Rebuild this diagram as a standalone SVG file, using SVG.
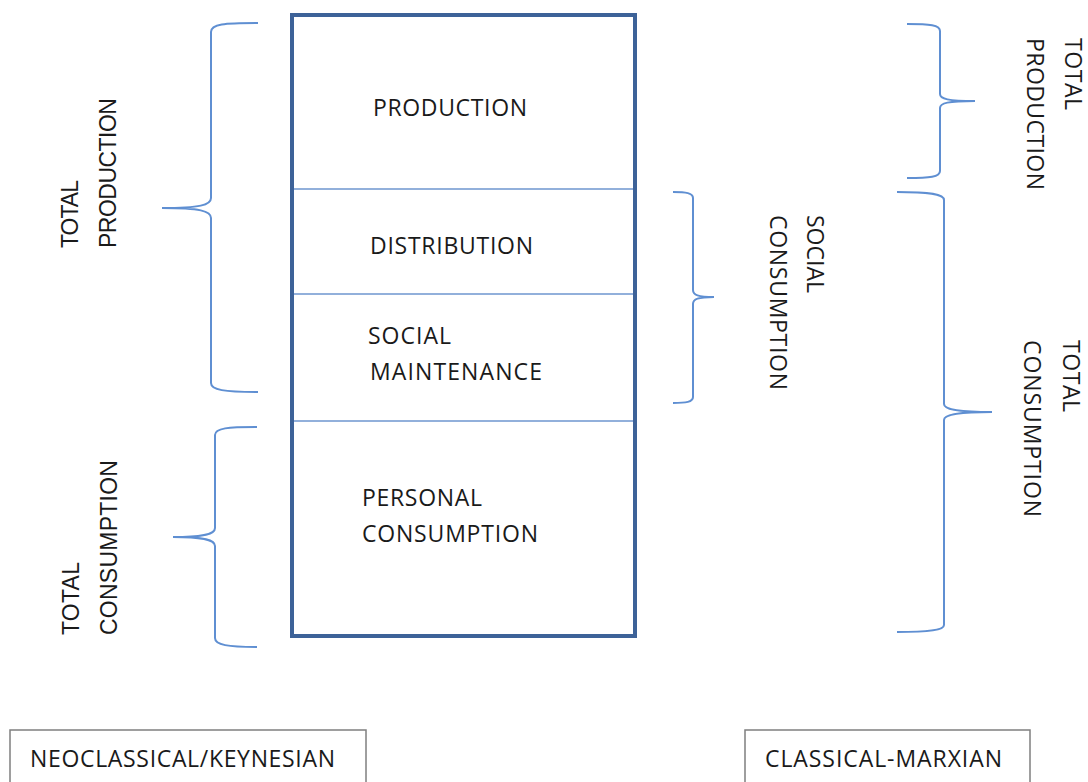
<svg xmlns="http://www.w3.org/2000/svg" width="1088" height="782" viewBox="0 0 1088 782">
<style>
.t{font-family:"Open Sans","Liberation Sans",sans-serif;font-size:23px;fill:#1a1a1a}
.a{font-family:"Liberation Sans",Arial,sans-serif;font-size:23px;fill:#1a1a1a}
.br{fill:none;stroke:#5f8fd2;stroke-width:2}
.div{stroke:#6e96cf;stroke-width:1.6}
.lb{fill:#fff;stroke:#7f7f7f;stroke-width:1.5}
</style>
<rect width="1088" height="782" fill="#fff"/>
<g id="main-box">
<rect x="292" y="15" width="343" height="621" fill="#fff" stroke="#3d6298" stroke-width="4"/>
</g>
<g id="dividers">
<line class="div" x1="294" y1="189" x2="633" y2="189"/>
<line class="div" x1="294" y1="294" x2="633" y2="294"/>
<line class="div" x1="294" y1="421" x2="633" y2="421"/>
</g>
<g id="production"><text class="t" x="373" y="116" textLength="154">PRODUCTION</text></g>
<g id="distribution"><text class="t" x="370" y="254" textLength="163">DISTRIBUTION</text></g>
<g id="social-maintenance"><text class="t" x="368" y="344" textLength="83">SOCIAL</text><text class="t" x="370" y="380" textLength="172">MAINTENANCE</text></g>
<g id="personal-consumption"><text class="t" x="362" y="506" textLength="120">PERSONAL</text><text class="t" x="362" y="542" textLength="176">CONSUMPTION</text></g>
<g id="connectors">
<path class="br" d="M258,23 C224,23 211,24 211,32 L211,198 C211,205 200,208 162,208 C200,208 211,211 211,218 L211,383 C211,390 224,392 258,392"/>
<path class="br" d="M257,427 C228,427 215,428 215,435 L215,528 C215,534 205,537 173,537 C205,537 215,540 215,546 L215,638 C215,645 228,647 257,647"/>
<path class="br" d="M907,24 C930,24 940,25 940,31 L940,94 C940,99 948,101 975,101 C948,101 940,103 940,108 L940,171 C940,177 930,178 907,178"/>
<path class="br" d="M673,192 C686,192 693,193 693,198 L693,290 C693,295 698,297 714,297 C698,297 693,299 693,304 L693,397 C693,402 686,403 673,403"/>
<path class="br" d="M897,192 C930,192 944,194 944,200 L944,404 C944,409 955,412 992,412 C955,412 944,415 944,420 L944,625 C944,630 930,632 897,632"/>
</g>
<g id="left-total-production">
<text class="a" transform="translate(78,248) rotate(-90)" textLength="68">TOTAL</text>
<text class="a" transform="translate(116,248) rotate(-90)" textLength="150">PRODUCTION</text>
</g>
<g id="left-total-consumption">
<text class="a" transform="translate(79,635) rotate(-90)" textLength="73">TOTAL</text>
<text class="a" transform="translate(117,635) rotate(-90)" textLength="175">CONSUMPTION</text>
</g>
<g id="right-total-production">
<text class="t" transform="translate(1065,38) rotate(90)" textLength="72">TOTAL</text>
<text class="t" transform="translate(1027,38) rotate(90)" textLength="152">PRODUCTION</text>
</g>
<g id="social-consumption">
<text class="t" transform="translate(807,215) rotate(90)" textLength="78">SOCIAL</text>
<text class="t" transform="translate(770,215) rotate(90)" textLength="175">CONSUMPTION</text>
</g>
<g id="right-total-consumption">
<text class="t" transform="translate(1063,340) rotate(90)" textLength="72">TOTAL</text>
<text class="t" transform="translate(1024,340) rotate(90)" textLength="177">CONSUMPTION</text>
</g>
<g id="neoclassical">
<rect class="lb" x="10" y="730" width="356" height="60"/>
<text class="t" x="30" y="767" textLength="305">NEOCLASSICAL/KEYNESIAN</text>
</g>
<g id="classical-marxian">
<rect class="lb" x="745" y="730" width="285" height="60"/>
<text class="t" x="765" y="767" textLength="237">CLASSICAL-MARXIAN</text>
</g>
</svg>
